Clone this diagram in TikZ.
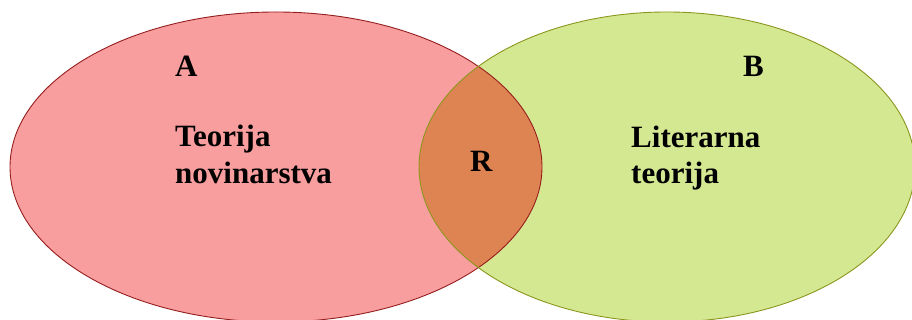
\documentclass[tikz,border=0pt]{standalone}
\usepackage{fontspec}
\setmainfont{Liberation Serif}
\definecolor{lfill}{RGB}{248,158,158}
\definecolor{rfill}{RGB}{212,232,146}
\definecolor{ofill}{RGB}{222,132,82}
\definecolor{lline}{RGB}{150,30,30}
\definecolor{rline}{RGB}{140,150,30}
\tikzset{
  lbl/.style={anchor=base west, inner sep=0pt, font=\fontsize{31}{37}\selectfont\bfseries, text=black},
}
\begin{document}
\begin{tikzpicture}[x=1pt,y=1pt]
\useasboundingbox (0,0) rectangle (912,320);
\clip (0,0) rectangle (912,320);
\def\leftell{(276,153) ellipse [x radius=266pt, y radius=155pt]}
\def\rightell{(667,153) ellipse [x radius=248pt, y radius=155pt]}
\fill[lfill] \leftell;
\fill[rfill] \rightell;
\begin{scope}
  \clip \leftell;
  \fill[ofill] \rightell;
\end{scope}
\draw[lline, line width=0.9pt] \leftell;
\draw[rline, line width=0.9pt] \rightell;
\node[lbl] (a) at (175,243) {A};
\node[lbl] (b) at (743,243) {B};
\node[lbl] (r) at (470,148) {R};
\node[lbl] (t1) at (175,173) {Teorija};
\node[lbl] (t2) at (175,136) {novinarstva};
\node[lbl] (l1) at (631,172) {Literarna};
\node[lbl] (l2) at (631,136) {teorija};
\end{tikzpicture}
\end{document}
